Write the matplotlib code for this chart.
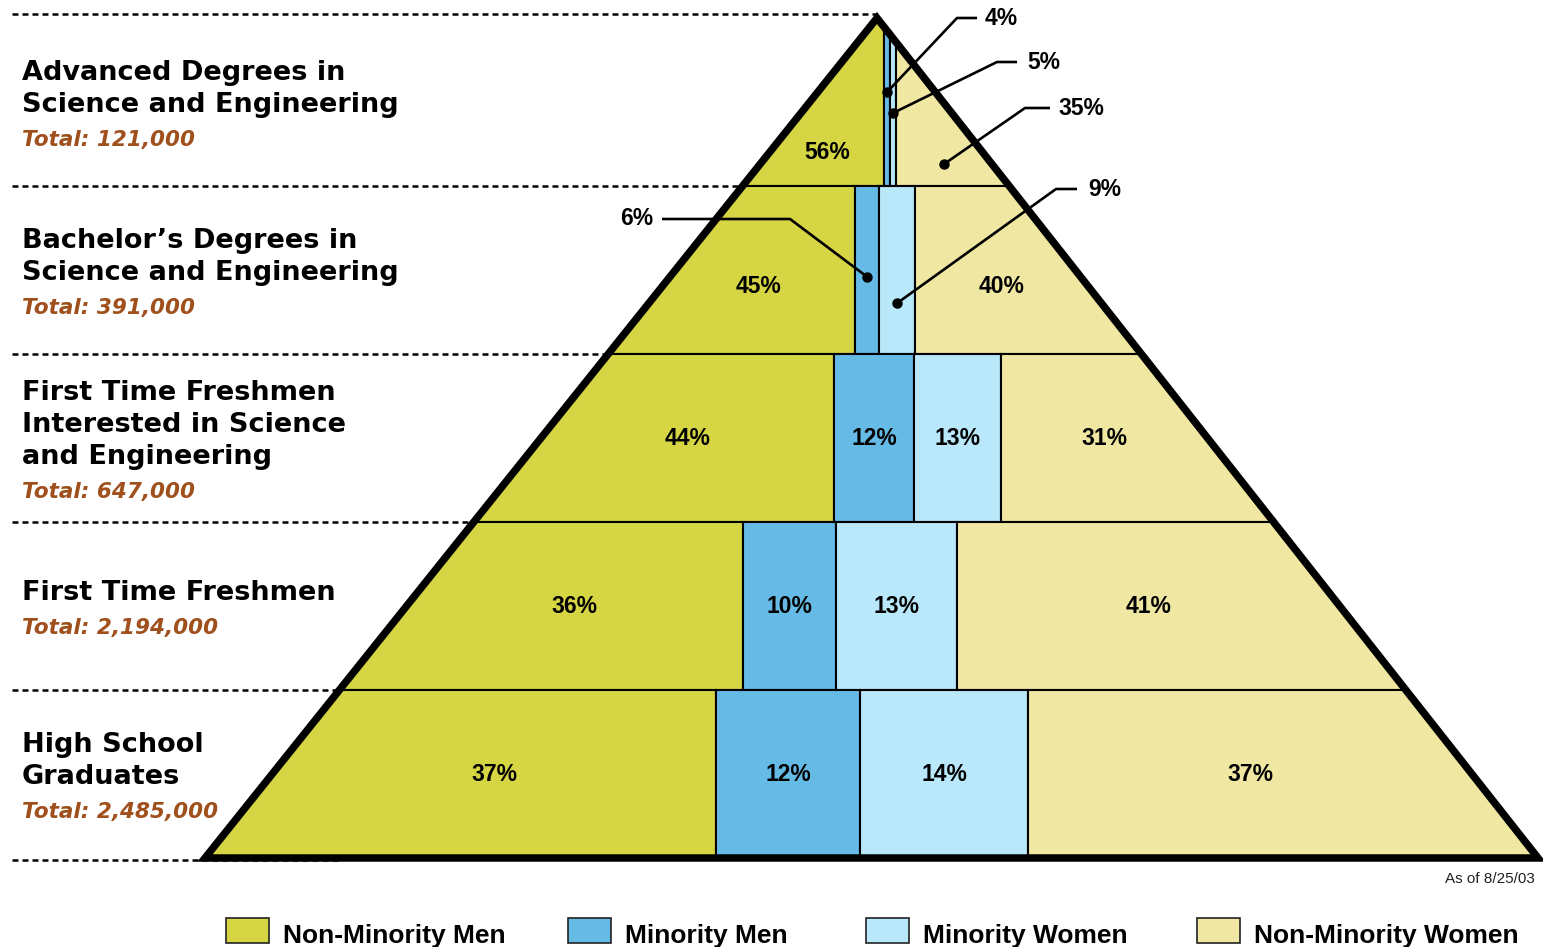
import numpy as np
import matplotlib
matplotlib.use("Agg")
import matplotlib.pyplot as plt
from matplotlib.patches import Polygon, Rectangle

plt.rcParams["lines.scale_dashes"] = False

# ---------------- data ----------------
categories = ["Non-Minority Men", "Minority Men", "Minority Women", "Non-Minority Women"]
level_titles = [
    "Advanced Degrees in\nScience and Engineering",
    "Bachelor\u2019s Degrees in\nScience and Engineering",
    "First Time Freshmen\nInterested in Science\nand Engineering",
    "First Time Freshmen",
    "High School\nGraduates",
]
level_totals = ["121,000", "391,000", "647,000", "2,194,000", "2,485,000"]
non_minority_men = [56, 45, 44, 36, 37]
minority_men = [4, 6, 12, 10, 12]
minority_women = [5, 9, 13, 13, 14]
non_minority_women = [35, 40, 31, 41, 37]
note_text = "As of 8/25/03"

# ---------------- style ----------------
seg_colors = ["#d6d544", "#66bbe6", "#b9e8fa", "#efe7a2"]
total_color = "#a0501c"
title_font = "DejaVu Sans"
body_font = "Liberation Sans"

W, H = 1543, 947
fig = plt.figure(figsize=(W / 100, H / 100), dpi=100)
ax = fig.add_axes([0, 0, 1, 1])
ax.set_xlim(0, W)
ax.set_ylim(H, 0)
ax.axis("off")

apex_x, apex_y = 877, 18
base_y, base_l, base_r = 858, 205, 1538


def left_x(y):
    return apex_x + (base_l - apex_x) * (y - apex_y) / (base_y - apex_y)


def right_x(y):
    return apex_x + (base_r - apex_x) * (y - apex_y) / (base_y - apex_y)


n_levels = len(level_titles)
bounds = np.linspace(apex_y, base_y, n_levels + 1)
tri = [(apex_x, apex_y), (base_r, base_y), (base_l, base_y)]

clip_poly = Polygon(tri, closed=True, fc="none", ec="none")
ax.add_patch(clip_poly)

# dashed guide lines
dash = (0, (4.3, 2.9))
for k, y in enumerate(bounds):
    if k == 0:
        ax.plot([12, apex_x], [y - 4, y - 4], color="black", lw=1.8, ls=dash, zorder=1)
    elif k == n_levels:
        ax.plot([12, left_x(bounds[k - 1])], [y + 2, y + 2], color="black", lw=1.8,
                ls=dash, zorder=1)
    else:
        ax.plot([12, left_x(y)], [y, y], color="black", lw=1.8, ls=dash, zorder=1)

series = [non_minority_men, minority_men, minority_women, non_minority_women]
label_frac = [0.8, 0.6, 0.5, 0.5, 0.5]

# callouts: (row, segment) -> (dot_y, elbow, end, text anchor, ha)
callouts = {
    (0, 1): (92, (957, 18), (977, 18), (985, 18), "left"),
    (0, 2): (113, (997, 62), (1017, 62), (1027, 62), "left"),
    (0, 3): (164, (1025, 108), (1050, 108), (1058, 108), "left"),
    (1, 1): (277, (790, 219), (662, 219), (653, 218), "right"),
    (1, 2): (303, (1056, 189), (1077, 189), (1088, 189), "left"),
}

pct_kw = dict(fontfamily=body_font, fontweight="bold", fontsize=16.5, color="black")

for i in range(n_levels):
    y0, y1 = bounds[i], bounds[i + 1]
    ym = (y0 + y1) / 2
    L, R = left_x(ym), right_x(ym)
    vals = [s[i] for s in series]
    cum = np.cumsum([0] + vals) / 100.0
    xs = L + cum * (R - L)
    xe = xs.copy()
    xe[0] = base_l - 30
    xe[-1] = base_r + 30
    for j in range(4):
        r = Rectangle((xe[j], y0), xe[j + 1] - xe[j], y1 - y0, fc=seg_colors[j],
                      ec="black", lw=1.5, zorder=2)
        ax.add_patch(r)
        r.set_clip_path(clip_poly)

    ly = y0 + label_frac[i] * (y1 - y0)
    for j in range(4):
        txt = f"{vals[j]}%"
        if (i, j) in callouts:
            dy, elbow, end, tpos, ha = callouts[(i, j)]
            if j == 3:
                dx = (xs[3] + right_x(dy)) / 2
            elif j == 0:
                dx = (left_x(dy) + xs[1]) / 2
            else:
                dx = (xs[j] + xs[j + 1]) / 2
            ax.plot([dx, elbow[0], end[0]], [dy, elbow[1], end[1]], color="black",
                    lw=1.9, zorder=6, solid_capstyle="butt")
            ax.plot([dx], [dy], "o", color="black", ms=6.5, zorder=7)
            ax.text(tpos[0], tpos[1], txt, ha=ha, va="center", zorder=8, **pct_kw)
        else:
            if j == 0:
                cx = (left_x(ly) + xs[1]) / 2
            elif j == 3:
                cx = (xs[3] + right_x(ly)) / 2
            else:
                cx = (xs[j] + xs[j + 1]) / 2
            ax.text(cx, ly, txt, ha="center", va="center", zorder=8, **pct_kw)

    # left-side labels
    lines = level_titles[i].split("\n")
    nl = len(lines)
    block_h = 20 + 32 * (nl - 1) + 34
    b1 = ym + 1 - block_h / 2 + 20
    for k, line in enumerate(lines):
        ax.text(22, b1 + 32 * k, line, ha="left", va="baseline", fontfamily=title_font,
                fontweight="bold", fontsize=19.5, color="black", zorder=8)
    ax.text(22, b1 + 32 * (nl - 1) + 34, f"Total: {level_totals[i]}", ha="left",
            va="baseline", fontfamily=title_font, fontweight="bold", fontstyle="italic",
            fontsize=15.5, color=total_color, zorder=8)

# pyramid outline
outline = Polygon(tri, closed=True, fc="none", ec="black", lw=5.4, joinstyle="miter",
                  zorder=5)
ax.add_patch(outline)

# note
ax.text(1535, 883, note_text, ha="right", va="baseline", fontfamily=body_font,
        fontsize=11, color="#222222")

# legend
legend_x = [226, 568, 866, 1197]
for j, name in enumerate(categories):
    ax.add_patch(Rectangle((legend_x[j], 918), 43, 25, fc=seg_colors[j], ec="#222222",
                           lw=1.2, zorder=3))
    ax.text(legend_x[j] + 57, 943, name, ha="left", va="baseline", fontfamily=body_font,
            fontweight="bold", fontsize=19, color="black")

fig.savefig("out.png", dpi=100)
